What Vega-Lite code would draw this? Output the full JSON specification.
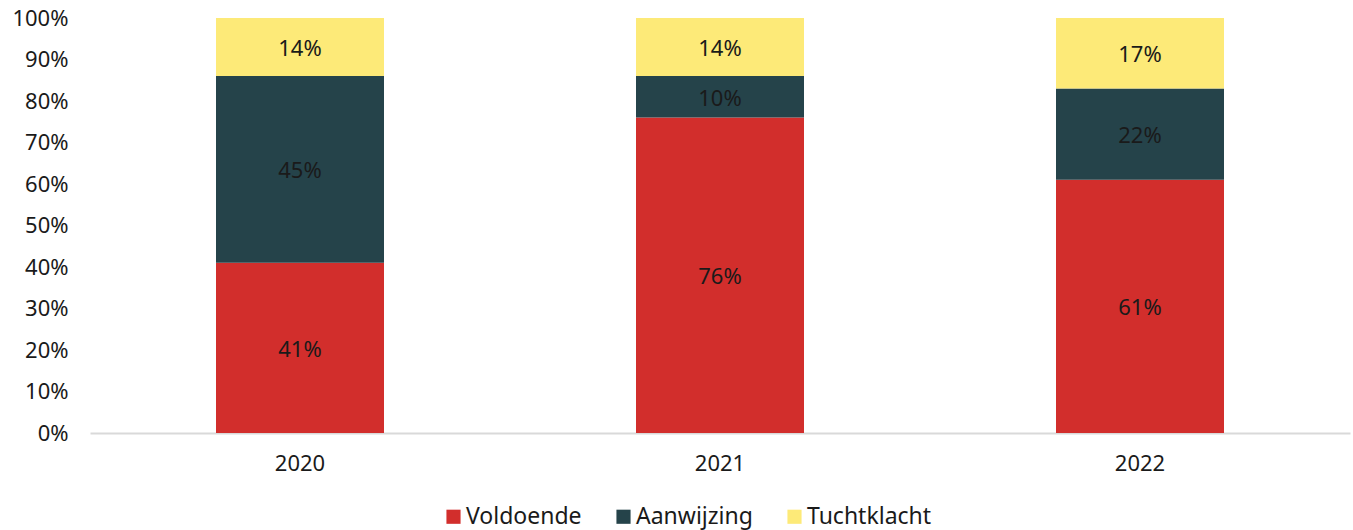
{
  "$schema": "https://vega.github.io/schema/vega-lite/v6.json",
  "autosize": {"type": "none"},
  "width": 1260,
  "height": 415,
  "padding": {"left": 90, "top": 18, "right": 3, "bottom": 97},
  "config": {
    "view": {"stroke": null},
    "font": "Noto Sans",
    "axis": {"labelFont": "Noto Sans", "labelColor": "#1a1a1a", "labelFontSize": 22, "grid": false, "ticks": false, "title": null},
    "legend": {"labelFont": "Noto Sans", "labelColor": "#1a1a1a", "labelFontSize": 23}
  },
  "data": {
    "values": [
      {"jaar": "2020", "categorie": "Voldoende", "order": 1, "waarde": 0.41},
      {"jaar": "2020", "categorie": "Aanwijzing", "order": 2, "waarde": 0.45},
      {"jaar": "2020", "categorie": "Tuchtklacht", "order": 3, "waarde": 0.14},
      {"jaar": "2021", "categorie": "Voldoende", "order": 1, "waarde": 0.76},
      {"jaar": "2021", "categorie": "Aanwijzing", "order": 2, "waarde": 0.10},
      {"jaar": "2021", "categorie": "Tuchtklacht", "order": 3, "waarde": 0.14},
      {"jaar": "2022", "categorie": "Voldoende", "order": 1, "waarde": 0.61},
      {"jaar": "2022", "categorie": "Aanwijzing", "order": 2, "waarde": 0.22},
      {"jaar": "2022", "categorie": "Tuchtklacht", "order": 3, "waarde": 0.17}
    ]
  },
  "transform": [
    {"stack": "waarde", "groupby": ["jaar"], "sort": [{"field": "order"}], "as": ["y0", "y1"]},
    {"calculate": "(datum.y0 + datum.y1) / 2", "as": "mid"}
  ],
  "encoding": {
    "x": {
      "field": "jaar", "type": "nominal",
      "scale": {"paddingInner": 0.6, "paddingOuter": 0.3},
      "axis": {"labelAngle": 0, "labelPadding": 20, "domainColor": "#d9d9d9", "domainWidth": 2}
    }
  },
  "layer": [
    {
      "mark": {"type": "bar"},
      "encoding": {
        "y": {
          "field": "y0", "type": "quantitative",
          "scale": {"domain": [0, 1]},
          "axis": {"values": [0,0.1,0.2,0.3,0.4,0.5,0.6,0.7,0.8,0.9,1], "format": ".0%", "domain": false, "labelPadding": 22}
        },
        "y2": {"field": "y1"},
        "color": {
          "field": "categorie", "type": "nominal",
          "scale": {"domain": ["Voldoende", "Aanwijzing", "Tuchtklacht"], "range": ["#D22E2C", "#25434A", "#FDEA78"]},
          "legend": {
            "title": null, "orient": "none", "direction": "horizontal",
            "legendX": 352, "legendY": 487,
            "symbolType": "square", "symbolSize": 200, "symbolStrokeWidth": 0,
            "labelOffset": 1, "columnPadding": 30
          }
        }
      }
    },
    {
      "mark": {"type": "text", "fontSize": 22, "color": "#1a1a1a", "font": "Noto Sans", "dy": 2},
      "encoding": {
        "y": {"field": "mid", "type": "quantitative"},
        "text": {"field": "waarde", "type": "quantitative", "format": ".0%"}
      }
    }
  ]
}
